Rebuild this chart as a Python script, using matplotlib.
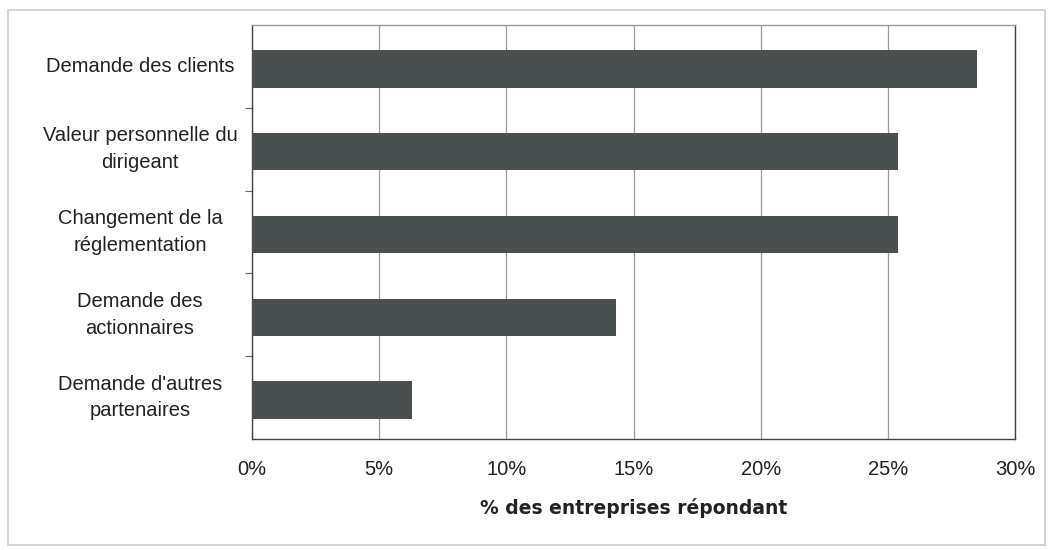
import matplotlib
matplotlib.use("Agg")
import matplotlib.pyplot as plt
from matplotlib.ticker import FuncFormatter
from matplotlib.patches import Rectangle

categories = ["Demande des clients",
              "Valeur personnelle du\ndirigeant",
              "Changement de la\nréglementation",
              "Demande des\nactionnaires",
              "Demande d'autres\npartenaires"]
values = [28.5, 25.4, 25.4, 14.3, 6.3]
xticks = [0, 5, 10, 15, 20, 25, 30]
xlabel = "% des entreprises répondant"

plt.rcParams['font.family'] = ['Liberation Sans', 'DejaVu Sans']

fig = plt.figure(figsize=(10.53, 5.5), dpi=100)
ax = fig.add_axes([252/1053, 1 - 439/550, (1015-252)/1053, (439-25)/550])

n = len(categories)
ypos = list(range(n))[::-1]
ax.barh([y - 0.03 for y in ypos], values, height=0.45, color="#4a4f4f", zorder=3)

ax.set_xlim(0, 30)
ax.set_ylim(-0.5, n - 0.5)
ax.set_xticks(xticks)
ax.xaxis.set_major_formatter(FuncFormatter(lambda v, p: f"{int(v)}%"))
ax.tick_params(axis='x', length=0, labelsize=14.5, pad=15, colors="#222222")
ax.grid(axis='x', color="#9a9a9a", linewidth=0.9, zorder=0)

# category labels at centers, ticks at boundaries
ax.set_yticks([i - 0.5 for i in range(1, n)])
ax.set_yticklabels([])
ax.tick_params(axis='y', length=5, direction='out', color="#666666")
xc = (140 - 252) / 763
for y, lab in zip(ypos, categories):
    ax.text(xc, y, lab, ha='center', va='center', fontsize=14.5,
            color="#222222", transform=ax.get_yaxis_transform(),
            multialignment='center', linespacing=1.5, clip_on=False)

ax.set_xlabel(xlabel, fontsize=13.5, fontweight='bold', labelpad=14,
              color="#222222", family='DejaVu Sans')
for s in ax.spines.values():
    s.set_color("#444444")
    s.set_linewidth(1.0)
ax.spines['top'].set_color("#999999")

fig.patches.append(Rectangle((8/1053, 1 - 545/550), (1045-8)/1053, (545-10)/550,
                             transform=fig.transFigure, fill=False,
                             edgecolor="#cccccc", linewidth=1.2))

fig.savefig("out.png", dpi=100)
